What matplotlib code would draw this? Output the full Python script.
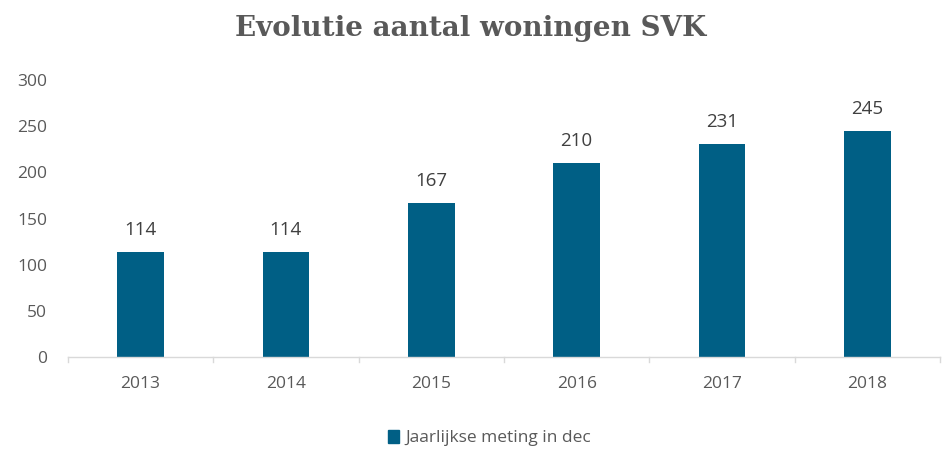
import matplotlib.pyplot as plt
from matplotlib.patches import Patch
import numpy as np

years = ['2013', '2014', '2015', '2016', '2017', '2018']
values = [114, 114, 167, 210, 231, 245]
series_name = 'Jaarlijkse meting in dec'

bar_color = '#005F85'
text_color = '#595959'

fig = plt.figure(figsize=(9.42, 4.53), dpi=100)
ax = fig.add_axes([0.072, 0.212, 0.926, 0.611])

x = np.arange(len(years))
ax.bar(x, values, width=0.32, color=bar_color, zorder=2)
for xi, v in zip(x, values):
    ax.text(xi, v + 14, str(v), ha='center', va='bottom', fontsize=13.5,
            color='#404040', family='Open Sans')

ax.set_xlim(-0.5, len(years) - 0.5)
ax.set_ylim(0, 300)
ax.set_yticks(range(0, 301, 50))
ax.set_xticks(x)
ax.set_xticklabels(years)
ax.tick_params(axis='y', length=0, labelsize=12.5, labelcolor=text_color, pad=15)
ax.tick_params(axis='x', length=0, labelsize=12.5, labelcolor=text_color, pad=14)
for lab in ax.get_xticklabels() + ax.get_yticklabels():
    lab.set_family('Open Sans')

# small ticks at category boundaries
for b in np.arange(-0.5, len(years), 1.0):
    ax.plot([b, b], [0, -6], color='#D9D9D9', lw=1, clip_on=False)

for s in ['top', 'right', 'left']:
    ax.spines[s].set_visible(False)
ax.spines['bottom'].set_color('#D9D9D9')
ax.spines['bottom'].set_linewidth(1)

fig.text(0.5, 0.938, 'Evolutie aantal woningen SVK', ha='center', va='center',
         fontsize=20, fontweight='bold', color=text_color, family='DejaVu Serif')

fig.legend(handles=[Patch(color=bar_color, label=series_name)],
           loc='center', bbox_to_anchor=(0.52, 0.033), frameon=False,
           handlelength=0.6, handleheight=0.8, handletextpad=0.4,
           prop={'family': 'Open Sans', 'size': 12.5}, labelcolor=text_color)

fig.savefig('out.png', dpi=100)
